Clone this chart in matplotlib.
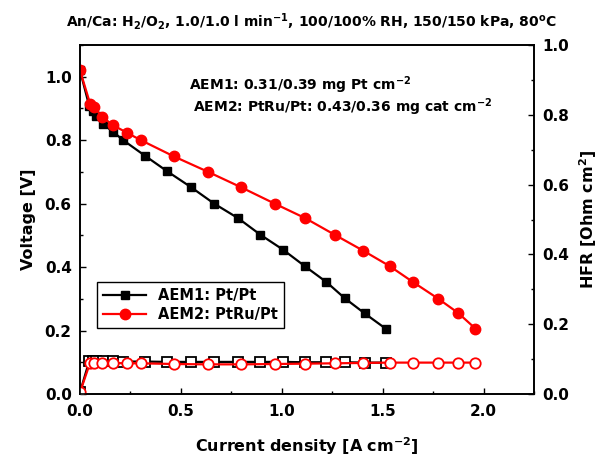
import matplotlib
matplotlib.use('Agg')
import matplotlib.pyplot as plt
from matplotlib.ticker import MultipleLocator

plt.rcParams['font.family'] = 'DejaVu Sans'
plt.rcParams['font.weight'] = 'bold'
plt.rcParams['mathtext.fontset'] = 'custom'
plt.rcParams['mathtext.rm'] = 'DejaVu Sans:bold'
plt.rcParams['mathtext.bf'] = 'DejaVu Sans:bold'
plt.rcParams['mathtext.default'] = 'bf'

# AEM1 polarisation (black squares)
j1 = [0.0, 0.046, 0.066, 0.079, 0.115, 0.165, 0.214, 0.322, 0.432, 0.55,
      0.665, 0.784, 0.894, 1.006, 1.114, 1.221, 1.312, 1.411, 1.515]
v1 = [1.02, 0.907, 0.891, 0.876, 0.850, 0.826, 0.800, 0.751, 0.702, 0.652,
      0.600, 0.554, 0.502, 0.455, 0.403, 0.353, 0.302, 0.254, 0.206]
hfr1 = [0.005, 0.095, 0.095, 0.095, 0.094, 0.094, 0.093, 0.093, 0.092, 0.092,
        0.092, 0.092, 0.092, 0.092, 0.091, 0.091, 0.091, 0.090, 0.090]

# AEM2 polarisation (red circles)
j2 = [0.0, 0.05, 0.07, 0.11, 0.162, 0.231, 0.302, 0.465, 0.632, 0.797,
      0.965, 1.117, 1.262, 1.403, 1.535, 1.65, 1.774, 1.873, 1.96]
v2 = [1.02, 0.915, 0.905, 0.873, 0.848, 0.824, 0.800, 0.749, 0.701, 0.652,
      0.600, 0.554, 0.502, 0.452, 0.403, 0.353, 0.301, 0.256, 0.206]
hfr2 = [0.005, 0.090, 0.090, 0.089, 0.089, 0.088, 0.088, 0.086, 0.085, 0.085,
        0.086, 0.087, 0.088, 0.089, 0.090, 0.090, 0.090, 0.090, 0.090]

fig = plt.figure(figsize=(6.08, 4.58), dpi=100)
ax = fig.add_axes([0.1316, 0.1397, 0.7467, 0.762])
ax2 = ax.twinx()

ax.plot(j1, v1, '-s', color='black', lw=1.6, ms=6, label='AEM1: Pt/Pt', zorder=3)
ax.plot(j2, v2, '-o', color='red', lw=1.6, ms=7.5, label='AEM2: PtRu/Pt', zorder=4)
ax2.plot(j1, hfr1, '-s', color='black', mfc='white', mec='black', lw=1.6, ms=6.5, mew=1.3)
ax2.plot(j2, hfr2, '-o', color='red', mfc='white', mec='red', lw=1.6, ms=7.5, mew=1.3)

ax.set_xlim(0, 2.25)
ax.set_ylim(0, 1.1)
ax2.set_ylim(0, 1.0)

ax.xaxis.set_major_locator(MultipleLocator(0.5))
ax.xaxis.set_minor_locator(MultipleLocator(0.25))
ax.yaxis.set_major_locator(MultipleLocator(0.2))
ax.yaxis.set_minor_locator(MultipleLocator(0.1))
ax2.yaxis.set_major_locator(MultipleLocator(0.2))
ax2.yaxis.set_minor_locator(MultipleLocator(0.1))

for a in (ax, ax2):
    a.tick_params(which='both', direction='in', labelsize=11, width=1)
    a.tick_params(which='major', length=4)
    a.tick_params(which='minor', length=2.5)
    for s in a.spines.values():
        s.set_linewidth(1.2)
ax.tick_params(axis='y', pad=6)
ax.tick_params(axis='x', pad=7)
ax2.tick_params(axis='y', pad=6)

ax.set_xlabel('Current density [A cm$^{-2}$]', fontsize=11.5, fontweight='bold', labelpad=12)
ax.set_ylabel('Voltage [V]', fontsize=11.5, fontweight='bold', labelpad=6)
ax2.set_ylabel('HFR [Ohm cm$^{2}$]', fontsize=11.5, fontweight='bold', labelpad=6)

fig.text(0.512, 0.954, 'An/Ca: H$_2$/O$_2$, 1.0/1.0 l min$^{-1}$, 100/100% RH, 150/150 kPa, 80$^{o}$C',
         ha='center', va='center', fontsize=10, fontweight='bold')
ax.text(0.240, 0.885, 'AEM1: 0.31/0.39 mg Pt cm$^{-2}$', transform=ax.transAxes,
        fontsize=10, fontweight='bold', va='center')
ax.text(0.249, 0.822, 'AEM2: PtRu/Pt: 0.43/0.36 mg cat cm$^{-2}$', transform=ax.transAxes,
        fontsize=10, fontweight='bold', va='center')

leg = ax.legend(loc='lower left', bbox_to_anchor=(0.037, 0.189), fontsize=10.5,
                fancybox=False, edgecolor='black', framealpha=1, handlelength=3,
                borderpad=0.4, labelspacing=0.3, borderaxespad=0)
leg.get_frame().set_linewidth(1)

fig.savefig('out.png', dpi=100)
